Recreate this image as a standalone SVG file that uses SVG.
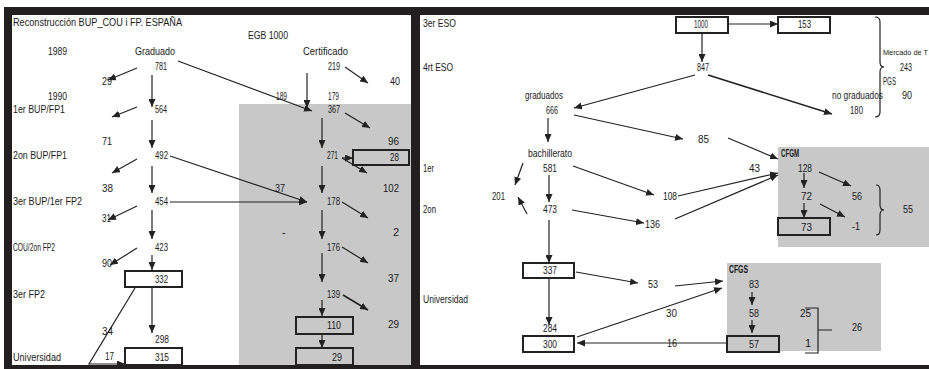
<svg xmlns="http://www.w3.org/2000/svg" width="929" height="369" viewBox="0 0 929 369">
<defs>
<style>
.t{font-family:"Liberation Sans",Arial,sans-serif;font-size:11px;fill:#1a1a1a}
.b{font-weight:bold}
.c{stroke:#222;stroke-width:1.2;fill:none}
.bx{fill:#fff;stroke:#222;stroke-width:2}
.bg{fill:#c8c8c9;stroke:#222;stroke-width:2}
.gray{fill:#c8c8c9}
.band{fill:#231f20}
</style>
<marker id="ah" markerUnits="userSpaceOnUse" markerWidth="8" markerHeight="7" refX="8" refY="3.5" orient="auto">
<path d="M0,0 L8,3.5 L0,7 z" fill="#222"/>
</marker>
</defs>
<rect x="0" y="0" width="929" height="369" fill="#fff"/>
<g id="panels">
<rect class="gray" x="239" y="104" width="172" height="261"/>
<rect class="gray" x="778" y="147" width="151" height="100"/>
<rect class="gray" x="727" y="263" width="154" height="88"/>
<rect class="band" x="4" y="7" width="925" height="8"/>
<rect class="band" x="4" y="7" width="8" height="362"/>
<rect class="band" x="411" y="7" width="9" height="362"/>
<rect class="band" x="4" y="365" width="925" height="4"/>
</g>
<g id="connectors" class="c">
<path d="M137,68 L108,80" marker-end="url(#ah)"/>
<path d="M152,75 L152,107" marker-end="url(#ah)"/>
<path d="M178,61 L312,111" marker-end="url(#ah)"/>
<path d="M345,67 L368,83" marker-end="url(#ah)"/>
<path d="M307,73 L307,108" marker-end="url(#ah)"/>
<path d="M137,107 L112,117" marker-end="url(#ah)"/>
<path d="M152,120 L152,148" marker-end="url(#ah)"/>
<path d="M345,113 L370,128" marker-end="url(#ah)"/>
<path d="M322,118 L322,148" marker-end="url(#ah)"/>
<path d="M170,156 L307,202" marker-end="url(#ah)"/>
<path d="M342,158 L353,158" marker-end="url(#ah)"/>
<path d="M342,158 L367,173" marker-end="url(#ah)"/>
<path d="M137,159 L112,173" marker-end="url(#ah)"/>
<path d="M152,166 L152,193" marker-end="url(#ah)"/>
<path d="M322,166 L322,193" marker-end="url(#ah)"/>
<path d="M170,202 L307,202" marker-end="url(#ah)"/>
<path d="M342,202 L368,218" marker-end="url(#ah)"/>
<path d="M137,206 L108,220" marker-end="url(#ah)"/>
<path d="M152,210 L152,239" marker-end="url(#ah)"/>
<path d="M322,210 L322,239" marker-end="url(#ah)"/>
<path d="M137,248 L110,265" marker-end="url(#ah)"/>
<path d="M342,247 L368,263" marker-end="url(#ah)"/>
<path d="M152,255 L152,270" marker-end="url(#ah)"/>
<path d="M322,253 L322,282" marker-end="url(#ah)"/>
<path d="M343,295 L368,310" marker-end="url(#ah)" stroke-width="1.6"/>
<path d="M152,287 L152,333" marker-end="url(#ah)"/>
<path d="M135,288 L89,364 L125,364" marker-end="url(#ah)"/>
<path d="M322,300 L322,316" marker-end="url(#ah)"/>
<path d="M322,334 L322,348" marker-end="url(#ah)"/>
<path d="M728,24 L778,24" marker-end="url(#ah)"/>
<path d="M702,33 L702,62" marker-end="url(#ah)"/>
<path d="M695,75 L574,108" marker-end="url(#ah)"/>
<path d="M708,75 L832,114" marker-end="url(#ah)" stroke-width="1.5"/>
<path d="M548,118 L548,142" marker-end="url(#ah)"/>
<path d="M574,115 L683,139" marker-end="url(#ah)"/>
<path d="M728,138 L778,159" marker-end="url(#ah)"/>
<path d="M523,163 L515,185" marker-end="url(#ah)"/>
<path d="M549,175 L549,202" marker-end="url(#ah)"/>
<path d="M573,166 L654,195" marker-end="url(#ah)"/>
<path d="M678,196 L778,173" marker-end="url(#ah)"/>
<path d="M675,219 L778,175" marker-end="url(#ah)"/>
<path d="M819,172 L851,186" marker-end="url(#ah)"/>
<path d="M804,173 L804,188" marker-end="url(#ah)"/>
<path d="M527,214 L518,197" marker-end="url(#ah)"/>
<path d="M572,210 L644,223" marker-end="url(#ah)"/>
<path d="M804,203 L804,218" marker-end="url(#ah)"/>
<path d="M820,204 L845,217" marker-end="url(#ah)"/>
<path d="M549,220 L549,263" marker-end="url(#ah)"/>
<path d="M576,272 L638,283" marker-end="url(#ah)"/>
<path d="M675,286 L723,281" marker-end="url(#ah)"/>
<path d="M752,292 L752,305" marker-end="url(#ah)"/>
<path d="M549,278 L549,325" marker-end="url(#ah)"/>
<path d="M577,337 L722,288" marker-end="url(#ah)"/>
<path d="M752,320 L752,333" marker-end="url(#ah)"/>
<path d="M727,343 L577,343" marker-end="url(#ah)"/>
<path d="M875,17 Q880,17 880,22 L880,62 Q880,67 884,67 Q880,67 880,72 L880,112 Q880,117 875,117"/>
<path d="M876,185 Q880,185 880,190 L880,205 Q880,210 884,210 Q880,210 880,215 L880,230 Q880,235 876,235"/>
<path d="M805,308 L818,308 L818,353 L805,353 M818,330 L832,330"/>
</g>
<g id="labels-left">
<text class="t" x="13" y="26" textLength="169" lengthAdjust="spacingAndGlyphs">Reconstrucción BUP_COU i FP. ESPAÑA</text>
<text class="t" x="248" y="39" textLength="40" lengthAdjust="spacingAndGlyphs">EGB 1000</text>
<text class="t" x="48" y="55" textLength="19" lengthAdjust="spacingAndGlyphs">1989</text>
<text class="t" x="135" y="55" textLength="40" lengthAdjust="spacingAndGlyphs">Graduado</text>
<text class="t" x="303" y="55" textLength="45" lengthAdjust="spacingAndGlyphs">Certificado</text>
<text class="t" x="48" y="100" textLength="19" lengthAdjust="spacingAndGlyphs">1990</text>
<text class="t" x="13" y="113" textLength="52" lengthAdjust="spacingAndGlyphs">1er BUP/FP1</text>
<text class="t" x="13" y="159" textLength="54" lengthAdjust="spacingAndGlyphs">2on BUP/FP1</text>
<text class="t" x="13" y="205" textLength="69" lengthAdjust="spacingAndGlyphs">3er BUP/1er FP2</text>
<text class="t" x="13" y="251" textLength="42" lengthAdjust="spacingAndGlyphs">COU/2on FP2</text>
<text class="t" x="13" y="298" textLength="32" lengthAdjust="spacingAndGlyphs">3er FP2</text>
<text class="t" x="13" y="361" textLength="48" lengthAdjust="spacingAndGlyphs">Universidad</text>
</g>
<g id="n781"><text class="t" x="155" y="70" textLength="12" lengthAdjust="spacingAndGlyphs">781</text></g>
<g id="n219"><text class="t" x="328" y="70" textLength="12" lengthAdjust="spacingAndGlyphs">219</text></g>
<g id="n29a"><text class="t" x="102" y="85" textLength="10" lengthAdjust="spacingAndGlyphs">29</text></g>
<g id="n40"><text class="t" x="390" y="85" textLength="10" lengthAdjust="spacingAndGlyphs">40</text></g>
<g id="n189"><text class="t" x="276" y="100" textLength="11" lengthAdjust="spacingAndGlyphs">189</text></g>
<g id="n179"><text class="t" x="328" y="100" textLength="11" lengthAdjust="spacingAndGlyphs">179</text></g>
<g id="n564"><text class="t" x="155" y="113" textLength="12" lengthAdjust="spacingAndGlyphs">564</text></g>
<g id="n367"><text class="t" x="328" y="113" textLength="12" lengthAdjust="spacingAndGlyphs">367</text></g>
<g id="n71"><text class="t" x="102" y="145" textLength="10" lengthAdjust="spacingAndGlyphs">71</text></g>
<g id="n96"><text class="t" x="388" y="145" textLength="11" lengthAdjust="spacingAndGlyphs">96</text></g>
<g id="n492"><text class="t" x="155" y="159" textLength="13" lengthAdjust="spacingAndGlyphs">492</text></g>
<g id="n271"><text class="t" x="327" y="159" textLength="11" lengthAdjust="spacingAndGlyphs">271</text></g>
<g id="n28"><rect class="bg" x="353" y="150" width="56" height="15"/><text class="t" x="390" y="161" textLength="9" lengthAdjust="spacingAndGlyphs">28</text></g>
<g id="n38"><text class="t" x="102" y="192" textLength="11" lengthAdjust="spacingAndGlyphs">38</text></g>
<g id="n37a"><text class="t" x="275" y="192" textLength="10" lengthAdjust="spacingAndGlyphs">37</text></g>
<g id="n102"><text class="t" x="383" y="192" textLength="16" lengthAdjust="spacingAndGlyphs">102</text></g>
<g id="n454"><text class="t" x="155" y="205" textLength="13" lengthAdjust="spacingAndGlyphs">454</text></g>
<g id="n178"><text class="t" x="327" y="205" textLength="13" lengthAdjust="spacingAndGlyphs">178</text></g>
<g id="n31"><text class="t" x="102" y="222" textLength="9" lengthAdjust="spacingAndGlyphs">31</text></g>
<g id="ndash"><text class="t" x="282" y="236">-</text></g>
<g id="n2"><text class="t" x="393" y="236">2</text></g>
<g id="n423"><text class="t" x="155" y="251" textLength="13" lengthAdjust="spacingAndGlyphs">423</text></g>
<g id="n176"><text class="t" x="327" y="251" textLength="13" lengthAdjust="spacingAndGlyphs">176</text></g>
<g id="n90a"><text class="t" x="102" y="267" textLength="10" lengthAdjust="spacingAndGlyphs">90</text></g>
<g id="n332"><rect class="bx" x="125" y="271" width="57" height="16"/><text class="t" x="155" y="283" textLength="13" lengthAdjust="spacingAndGlyphs">332</text></g>
<g id="n37b"><text class="t" x="388" y="282" textLength="11" lengthAdjust="spacingAndGlyphs">37</text></g>
<g id="n139"><text class="t" x="327" y="298" textLength="13" lengthAdjust="spacingAndGlyphs">139</text></g>
<g id="n34"><text class="t" x="102" y="335" textLength="11" lengthAdjust="spacingAndGlyphs">34</text></g>
<g id="n110"><rect class="bg" x="296" y="317" width="57" height="17"/><text class="t" x="327" y="329" textLength="14" lengthAdjust="spacingAndGlyphs">110</text></g>
<g id="n29b"><text class="t" x="388" y="328" textLength="11" lengthAdjust="spacingAndGlyphs">29</text></g>
<g id="n298"><text class="t" x="155" y="343" textLength="14" lengthAdjust="spacingAndGlyphs">298</text></g>
<g id="n17"><text class="t" x="105" y="360" textLength="9" lengthAdjust="spacingAndGlyphs">17</text></g>
<g id="n315"><rect class="bx" x="125" y="348" width="57" height="17"/><text class="t" x="155" y="361" textLength="14" lengthAdjust="spacingAndGlyphs">315</text></g>
<g id="n29c"><rect class="bg" x="296" y="348" width="57" height="17"/><text class="t" x="332" y="361" textLength="10" lengthAdjust="spacingAndGlyphs">29</text></g>
<g id="labels-right">
<text class="t" x="423" y="27" textLength="33" lengthAdjust="spacingAndGlyphs">3er ESO</text>
<text class="t" x="423" y="71" textLength="30" lengthAdjust="spacingAndGlyphs">4rt ESO</text>
<text class="t" x="423" y="172" textLength="11" lengthAdjust="spacingAndGlyphs">1er</text>
<text class="t" x="423" y="213" textLength="13" lengthAdjust="spacingAndGlyphs">2on</text>
<text class="t" x="423" y="303" textLength="45" lengthAdjust="spacingAndGlyphs">Universidad</text>
<text class="t" x="883" y="55" style="font-size:7.3px">Mercado de T</text>
<text class="t" x="883" y="85" textLength="13" lengthAdjust="spacingAndGlyphs">PGS</text>
<text class="t" x="525" y="99" textLength="38" lengthAdjust="spacingAndGlyphs">graduados</text>
<text class="t" x="832" y="99" textLength="51" lengthAdjust="spacingAndGlyphs">no graduados</text>
<text class="t" x="528" y="157" textLength="44" lengthAdjust="spacingAndGlyphs">bachillerato</text>
<text class="t b" x="781" y="157" textLength="18" lengthAdjust="spacingAndGlyphs">CFGM</text>
<text class="t b" x="729" y="273" textLength="19" lengthAdjust="spacingAndGlyphs">CFGS</text>
</g>
<g id="r1000"><rect class="bx" x="676" y="17" width="52" height="16" stroke-width="1.5"/><text class="t" x="694" y="28" textLength="14" lengthAdjust="spacingAndGlyphs">1000</text></g>
<g id="r153"><rect class="bx" x="778" y="17" width="52" height="16" stroke-width="1.5"/><text class="t" x="798" y="28" textLength="13" lengthAdjust="spacingAndGlyphs">153</text></g>
<g id="r847"><text class="t" x="697" y="71" textLength="12" lengthAdjust="spacingAndGlyphs">847</text></g>
<g id="r243"><text class="t" x="900" y="71" textLength="12" lengthAdjust="spacingAndGlyphs">243</text></g>
<g id="r90"><text class="t" x="902" y="99" textLength="10" lengthAdjust="spacingAndGlyphs">90</text></g>
<g id="r666"><text class="t" x="546" y="114" textLength="12" lengthAdjust="spacingAndGlyphs">666</text></g>
<g id="r180"><text class="t" x="850" y="114" textLength="13" lengthAdjust="spacingAndGlyphs">180</text></g>
<g id="r85"><text class="t" x="698" y="143" textLength="11" lengthAdjust="spacingAndGlyphs">85</text></g>
<g id="r581"><text class="t" x="543" y="172" textLength="14" lengthAdjust="spacingAndGlyphs">581</text></g>
<g id="r43"><text class="t" x="749" y="172" textLength="11" lengthAdjust="spacingAndGlyphs">43</text></g>
<g id="r128"><text class="t" x="798" y="172" textLength="14" lengthAdjust="spacingAndGlyphs">128</text></g>
<g id="r201"><text class="t" x="492" y="200" textLength="13" lengthAdjust="spacingAndGlyphs">201</text></g>
<g id="r108"><text class="t" x="663" y="200" textLength="14" lengthAdjust="spacingAndGlyphs">108</text></g>
<g id="r72"><text class="t" x="801" y="200" textLength="11" lengthAdjust="spacingAndGlyphs">72</text></g>
<g id="r56"><text class="t" x="852" y="200" textLength="10" lengthAdjust="spacingAndGlyphs">56</text></g>
<g id="r473"><text class="t" x="543" y="213" textLength="14" lengthAdjust="spacingAndGlyphs">473</text></g>
<g id="r55"><text class="t" x="903" y="213" textLength="10" lengthAdjust="spacingAndGlyphs">55</text></g>
<g id="r136"><text class="t" x="645" y="228" textLength="15" lengthAdjust="spacingAndGlyphs">136</text></g>
<g id="r73"><rect class="bg" x="778" y="218" width="52" height="17"/><text class="t" x="801" y="231" textLength="11" lengthAdjust="spacingAndGlyphs">73</text></g>
<g id="rm1"><text class="t" x="852" y="230" textLength="8" lengthAdjust="spacingAndGlyphs">-1</text></g>
<g id="r337"><rect class="bx" x="523" y="263" width="51" height="15" stroke-width="1.5"/><text class="t" x="543" y="274" textLength="14" lengthAdjust="spacingAndGlyphs">337</text></g>
<g id="r53"><text class="t" x="648" y="288" textLength="10" lengthAdjust="spacingAndGlyphs">53</text></g>
<g id="r83"><text class="t" x="749" y="288" textLength="10" lengthAdjust="spacingAndGlyphs">83</text></g>
<g id="r30"><text class="t" x="666" y="317" textLength="11" lengthAdjust="spacingAndGlyphs">30</text></g>
<g id="r58"><text class="t" x="749" y="317" textLength="10" lengthAdjust="spacingAndGlyphs">58</text></g>
<g id="r25"><text class="t" x="800" y="317" textLength="11" lengthAdjust="spacingAndGlyphs">25</text></g>
<g id="r26"><text class="t" x="852" y="331" textLength="10" lengthAdjust="spacingAndGlyphs">26</text></g>
<g id="r284"><text class="t" x="543" y="332" textLength="14" lengthAdjust="spacingAndGlyphs">284</text></g>
<g id="r300"><rect class="bx" x="523" y="336" width="51" height="16" stroke-width="1.5"/><text class="t" x="543" y="348" textLength="14" lengthAdjust="spacingAndGlyphs">300</text></g>
<g id="r16"><text class="t" x="667" y="347" textLength="10" lengthAdjust="spacingAndGlyphs">16</text></g>
<g id="r57"><rect class="bg" x="727" y="336" width="52" height="16"/><text class="t" x="749" y="348" textLength="10" lengthAdjust="spacingAndGlyphs">57</text></g>
<g id="r1"><text class="t" x="805" y="347">1</text></g>
</svg>
